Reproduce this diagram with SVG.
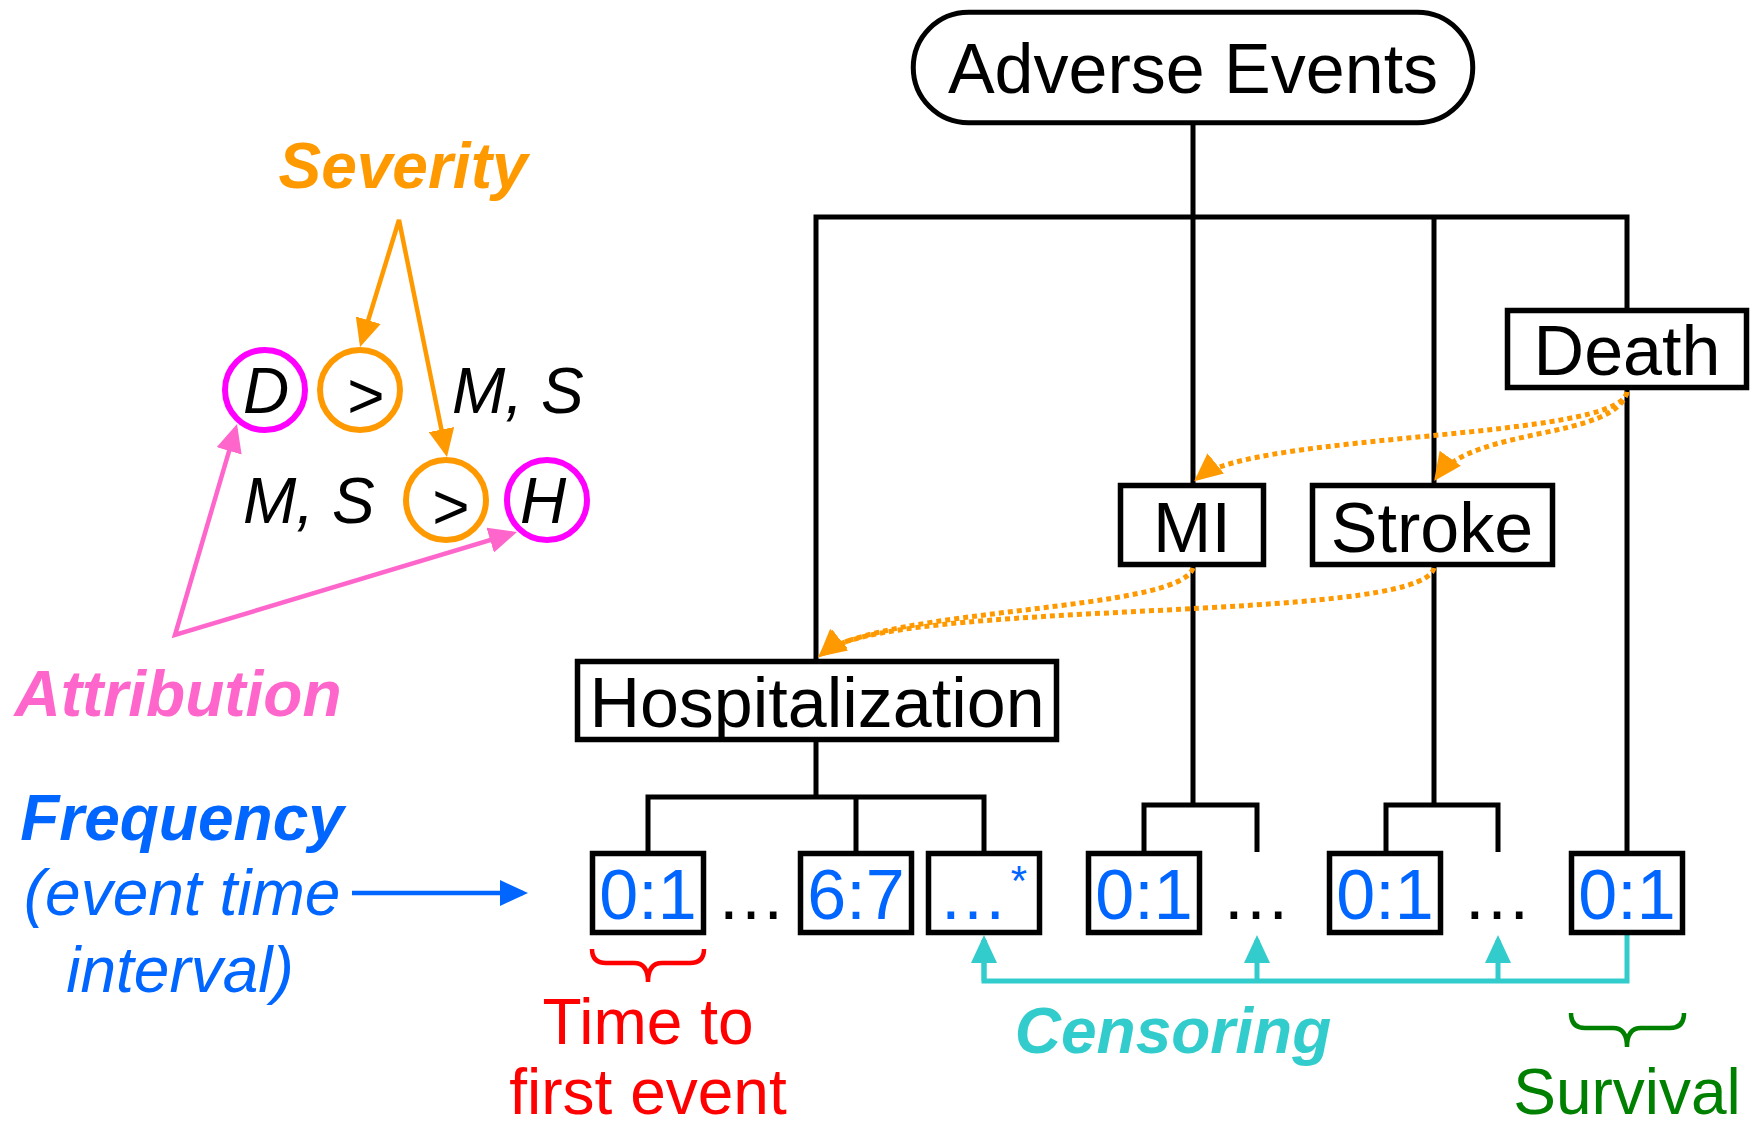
<svg xmlns="http://www.w3.org/2000/svg" width="1752" height="1128" viewBox="0 0 1752 1128">
  <style>
    text { font-family: "Liberation Sans", Arial, sans-serif; }
    .box { fill: #fff; stroke: #000; stroke-width: 5.5; }
    .lbl { font-size: 70px; fill: #000; text-anchor: middle; }
    .num { font-size: 70px; fill: #0066FF; text-anchor: middle; }
    .gap { font-size: 70px; fill: #000; text-anchor: middle; }
    .tree { fill: none; stroke: #000; stroke-width: 5; }
    .dotted { fill: none; stroke: #FF9900; stroke-width: 5; stroke-dasharray: 5 4; }
    .sev { fill: none; stroke: #FF9900; stroke-width: 4.5; }
    .attr { fill: none; stroke: #FF66CC; stroke-width: 4.5; }
    .freq { fill: none; stroke: #0066FF; stroke-width: 4.5; }
    .cens { fill: none; stroke: #33CCCC; stroke-width: 5; }
    .ring-m { fill: none; stroke: #FF00FF; stroke-width: 6; }
    .ring-o { fill: none; stroke: #FF9900; stroke-width: 6; }
    .it { font-size: 64px; font-style: italic; fill: #000; }
    .op { font-size: 64px; fill: #000; text-anchor: middle; }
    .title { font-size: 64px; font-style: italic; font-weight: bold; text-anchor: middle; }
    .note { font-size: 64px; text-anchor: middle; }
  </style>
  <defs>
    <marker id="ah-orange" markerUnits="userSpaceOnUse" viewBox="0 0 28 26" refX="23" refY="13" markerWidth="28" markerHeight="26" orient="auto-start-reverse">
      <path d="M0,0 L28,13 L0,26 z" fill="#FF9900"/>
    </marker>
    <marker id="ah-pink" markerUnits="userSpaceOnUse" viewBox="0 0 28 26" refX="23" refY="13" markerWidth="28" markerHeight="26" orient="auto-start-reverse">
      <path d="M0,0 L28,13 L0,26 z" fill="#FF66CC"/>
    </marker>
    <marker id="ah-blue" markerUnits="userSpaceOnUse" viewBox="0 0 28 26" refX="23" refY="13" markerWidth="28" markerHeight="26" orient="auto">
      <path d="M0,0 L28,13 L0,26 z" fill="#0066FF"/>
    </marker>
    <marker id="ah-cyan" markerUnits="userSpaceOnUse" viewBox="0 0 28 26" refX="23" refY="13" markerWidth="28" markerHeight="26" orient="auto">
      <path d="M0,0 L28,13 L0,26 z" fill="#33CCCC"/>
    </marker>
  </defs>

  <rect width="1752" height="1128" fill="#fff"/>

  <!-- tree connectors and annotation arrows -->
  <g id="connectors">
    <path class="tree" d="M816,659 L816,217 L1627,217 L1627,308"/>
    <path class="tree" d="M1193,125 L1193,483"/>
    <path class="tree" d="M1434,217 L1434,483"/>
    <path class="tree" d="M816,742 L816,797"/>
    <path class="tree" d="M648,851 L648,797 L984,797 L984,851"/>
    <path class="tree" d="M856,797 L856,851"/>
    <path class="tree" d="M1193,567 L1193,805"/>
    <path class="tree" d="M1144,851 L1144,805 L1257,805 L1257,852"/>
    <path class="tree" d="M1434,567 L1434,805"/>
    <path class="tree" d="M1386,851 L1386,805 L1498,805 L1498,852"/>
    <path class="tree" d="M1627,390 L1627,851"/>

    <!-- severity ordering between outcomes -->
    <path class="dotted" d="M1627,392 C1620,440 1254,432 1198,478" marker-end="url(#ah-orange)"/>
    <path class="dotted" d="M1627,392 C1615,440 1473,426 1437,477" marker-end="url(#ah-orange)"/>
    <path class="dotted" d="M1193,568 C1180,612 884,607 822,654" marker-end="url(#ah-orange)"/>
    <path class="dotted" d="M1434,568 C1420,625 884,597 822,654" marker-end="url(#ah-orange)"/>

    <!-- legend arrows -->
    <path class="sev" d="M361.5,342.2 L399,220 L446,452.1" marker-start="url(#ah-orange)" marker-end="url(#ah-orange)"/>
    <path class="attr" d="M235.6,428.8 L175,635 L512.2,533.4" marker-start="url(#ah-pink)" marker-end="url(#ah-pink)"/>
    <path class="freq" d="M352,893 L523,893" marker-end="url(#ah-blue)"/>

    <!-- censoring -->
    <path class="cens" d="M984,940 L984,981 L1627,981 L1627,935"/>
    <path class="cens" d="M984,981 L984,940" marker-end="url(#ah-cyan)"/>
    <path class="cens" d="M1257,981 L1257,940" marker-end="url(#ah-cyan)"/>
    <path class="cens" d="M1498,981 L1498,940" marker-end="url(#ah-cyan)"/>

    <!-- braces -->
    <path d="M592,949 Q592,963 606,963 L634,963 Q648,963 648,982 Q648,963 662,963 L690,963 Q704,963 704,949" fill="none" stroke="#FF0000" stroke-width="4.5"/>
    <path d="M1571,1013 Q1571,1028 1585,1028 L1613,1028 Q1627,1028 1627,1047 Q1627,1028 1641,1028 L1670,1028 Q1684,1028 1684,1013" fill="none" stroke="#008000" stroke-width="4.5"/>
  </g>

  <g id="adverse-events">
    <rect x="913.25" y="12.25" width="559.5" height="110.5" rx="55.25" fill="#fff" stroke="#000" stroke-width="5"/>
    <text class="lbl" x="1193" y="93">Adverse Events</text>
  </g>
  <g id="death">
    <rect class="box" x="1507.5" y="310.5" width="239" height="77"/>
    <text class="lbl" x="1627" y="375">Death</text>
  </g>
  <g id="mi">
    <rect class="box" x="1120.5" y="485.5" width="143" height="79"/>
    <text class="lbl" x="1192" y="552">MI</text>
  </g>
  <g id="stroke">
    <rect class="box" x="1312.5" y="485.5" width="240" height="79"/>
    <text class="lbl" x="1432" y="552">Stroke</text>
  </g>
  <g id="hospitalization">
    <rect class="box" x="577.5" y="661.5" width="479" height="78"/>
    <text class="lbl" x="817" y="727">Hospitalization</text>
  </g>

  <g id="hosp-0-1">
    <rect class="box" x="592.5" y="853.5" width="111" height="79"/>
    <text class="num" x="648" y="919">0:1</text>
  </g>
  <text class="gap" x="751" y="919">…</text>
  <g id="hosp-6-7">
    <rect class="box" x="800.5" y="853.5" width="111" height="79"/>
    <text class="num" x="856" y="919">6:7</text>
  </g>
  <g id="hosp-more">
    <rect class="box" x="928.5" y="853.5" width="111" height="79"/>
    <text class="num" x="973" y="919">…</text>
    <text x="1019" y="895" font-size="42" fill="#0066FF" text-anchor="middle">*</text>
  </g>
  <g id="mi-0-1">
    <rect class="box" x="1088.5" y="853.5" width="111" height="79"/>
    <text class="num" x="1144" y="919">0:1</text>
  </g>
  <text class="gap" x="1256" y="919">…</text>
  <g id="stroke-0-1">
    <rect class="box" x="1329.5" y="853.5" width="111" height="79"/>
    <text class="num" x="1385" y="919">0:1</text>
  </g>
  <text class="gap" x="1497" y="919">…</text>
  <g id="death-0-1">
    <rect class="box" x="1571.5" y="853.5" width="111" height="79"/>
    <text class="num" x="1627" y="919">0:1</text>
  </g>

  <!-- legend: severity / attribution ordering -->
  <g id="severity">
    <text class="title" x="403" y="188" fill="#FF9900">Severity</text>
  </g>
  <g id="order-top">
    <circle class="ring-m" cx="265" cy="390" r="40"/>
    <text class="it" x="266" y="413" text-anchor="middle">D</text>
    <circle class="ring-o" cx="360" cy="390" r="40"/>
    <text class="op" x="366" y="418">&gt;</text>
    <text class="it" x="452" y="413">M, S</text>
  </g>
  <g id="order-bottom">
    <text class="it" x="243" y="523">M, S</text>
    <circle class="ring-o" cx="446" cy="500" r="40"/>
    <text class="op" x="451" y="529">&gt;</text>
    <circle class="ring-m" cx="547" cy="500" r="40"/>
    <text class="it" x="543" y="523" text-anchor="middle">H</text>
  </g>
  <g id="attribution">
    <text class="title" x="178" y="716" fill="#FF66CC">Attribution</text>
  </g>
  <g id="frequency">
    <text class="title" x="182" y="840" fill="#0066FF">Frequency</text>
    <text class="note" x="182" y="915" fill="#0066FF" font-style="italic">(event time</text>
    <text class="note" x="180" y="992" fill="#0066FF" font-style="italic">interval)</text>
  </g>
  <g id="censoring">
    <text class="title" x="1173" y="1053" fill="#33CCCC">Censoring</text>
  </g>
  <g id="time-to-first">
    <text class="note" x="648" y="1044" fill="#FF0000">Time to</text>
    <text class="note" x="648" y="1114" fill="#FF0000">first event</text>
  </g>
  <g id="survival">
    <text class="note" x="1627" y="1114" fill="#008000">Survival</text>
  </g>
</svg>
